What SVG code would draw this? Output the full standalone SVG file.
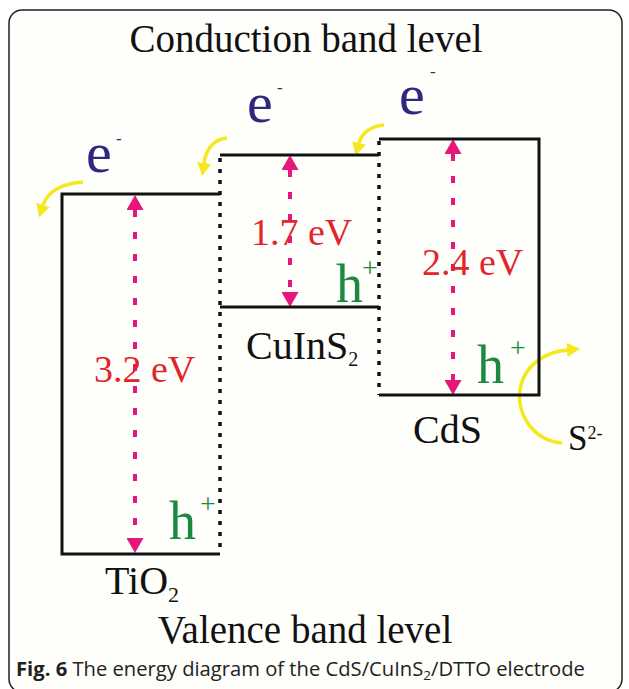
<svg xmlns="http://www.w3.org/2000/svg" width="629" height="689" viewBox="0 0 629 689">
<style>
.serif{font-family:"Liberation Serif","Times New Roman",serif}
.band{fill:none;stroke:#111;stroke-width:3}
.dot{fill:none;stroke:#111;stroke-width:3.5;stroke-dasharray:4 7}
.gap{fill:none;stroke:#e5177d;stroke-width:4;stroke-dasharray:7 15;marker-start:url(#mh);marker-end:url(#mh)}
.flow{fill:none;stroke:#f5e81e;stroke-width:3.5;marker-end:url(#yh)}
.ev{fill:#e1252b;font-size:38px}
.el{fill:#30287f;font-size:58px}
.mi{fill:#30287f;font-size:17px}
.ho{fill:#1b8a3e;font-size:54px}
.pl{fill:#1b8a3e;font-size:28px}
.lbl{fill:#111;font-size:40px}
</style>
<defs>
<marker id="mh" viewBox="0 0 15 17" refX="0" refY="8.5" markerWidth="15" markerHeight="17" markerUnits="userSpaceOnUse" orient="auto-start-reverse">
<path d="M0,0 L15,8.5 L0,17 z" fill="#e5177d"/>
</marker>
<marker id="yh" viewBox="0 0 13 14" refX="0" refY="7" markerWidth="13" markerHeight="14" markerUnits="userSpaceOnUse" orient="auto">
<path d="M0,0 L13,7 L0,14 z" fill="#f5e81e"/>
</marker>
</defs>
<rect x="0" y="0" width="629" height="689" fill="#ffffff"/>
<rect x="9" y="10" width="613" height="682" rx="13" fill="#fefefa" stroke="#222" stroke-width="1.5"/>

<text class="serif" x="306" y="52" font-size="39" text-anchor="middle" fill="#111">Conduction band level</text>
<text class="serif" x="305" y="643" font-size="39" text-anchor="middle" fill="#111">Valence band level</text>

<g id="connectors">
<path class="dot" d="M220 158 V553"/>
<path class="dot" d="M379 141 V395"/>
<path class="gap" d="M135 210 V538"/>
<path class="gap" d="M290 170 V292"/>
<path class="gap" d="M453 154 V380"/>
<path class="flow" d="M83 182 C65 183 48 190 43 205"/>
<path class="flow" d="M227 138 C215 139 206 148 204 163"/>
<path class="flow" d="M384 125 C372 126 362 132 359 143"/>
<path class="flow" d="M562 443 C530 440 515 410 521 385 C526 365 545 352 567 350"/>
</g>

<g id="tio2">
<path class="band" d="M220 194 H62 V554 H220"/>
<text class="serif lbl" x="105" y="594">TiO<tspan font-size="22" dy="8">2</tspan></text>
<text class="serif ev" x="94" y="382">3.2 eV</text>
<text class="serif el" x="86" y="172">e</text>
<text class="serif mi" x="116" y="144">-</text>
<text class="serif ho" x="169" y="539">h</text>
<text class="serif pl" x="208" y="513" text-anchor="middle">+</text>
</g>

<g id="cuins2">
<path class="band" d="M220 155 H379"/>
<path class="band" d="M220 307 H379"/>
<text class="serif lbl" x="246" y="359" font-size="38">CuInS<tspan font-size="20" dy="7">2</tspan></text>
<text class="serif ev" x="251" y="245">1.7 eV</text>
<text class="serif el" x="247" y="122">e</text>
<text class="serif mi" x="277" y="93">-</text>
<text class="serif ho" x="336" y="302">h</text>
<text class="serif pl" x="370" y="277" text-anchor="middle">+</text>
</g>

<g id="cds">
<path class="band" d="M379 139 H539 V395 H379"/>
<text class="serif lbl" x="413" y="443">CdS</text>
<text class="serif ev" x="422" y="275">2.4 eV</text>
<text class="serif el" x="399" y="114">e</text>
<text class="serif mi" x="430" y="77">-</text>
<text class="serif ho" x="477" y="383">h</text>
<text class="serif pl" x="518" y="357" text-anchor="middle">+</text>
</g>

<g id="s2">
<text class="serif" x="568" y="450" font-size="35" fill="#111">S<tspan font-size="18" dy="-11">2-</tspan></text>
</g>

<text x="16" y="676" font-family="'Open Sans','Noto Sans',sans-serif" font-size="20.2" fill="#222"><tspan font-weight="bold">Fig. 6</tspan> The energy diagram of the CdS/CuInS<tspan font-size="13.5" dy="4">2</tspan><tspan dy="-4">/DTTO electrode</tspan></text>
</svg>
